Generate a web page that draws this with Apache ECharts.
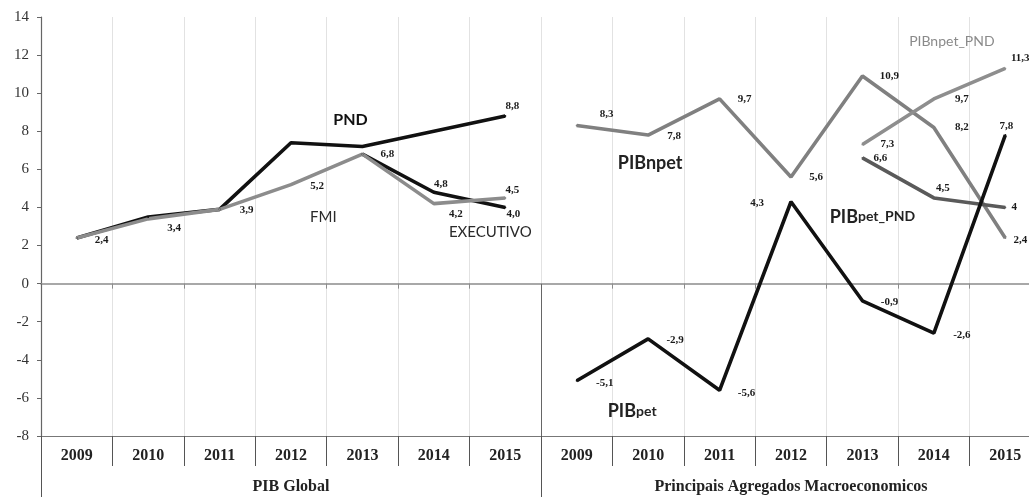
<!DOCTYPE html>
<html>
<head>
<meta charset="utf-8">
<script src="https://cdn.jsdelivr.net/npm/echarts@6/dist/echarts.min.js"></script>
<style>
html,body{margin:0;padding:0;background:#fff;overflow:hidden;width:1029px;height:497px;}
#chart{width:1041px;height:497px;}
</style>
</head>
<body>
<div id="chart"></div>
<script>
// ---- data ----
const years = ['2009', '2010', '2011', '2012', '2013', '2014', '2015'];
const groups = ['PIB Global', 'Principais Agregados Macroeconomicos'];
const yMin = -8, yMax = 14, yStep = 2;

// PIB Global
const pnd = [2.4, 3.5, 3.9, 7.4, 7.2, 8.0, 8.8];
const executivo = [null, null, null, null, 6.8, 4.8, 4.0];
const fmi = [2.4, 3.4, 3.9, 5.2, 6.8, 4.2, 4.5];

// Principais Agregados Macroeconomicos
const pibNpet = [8.3, 7.8, 9.7, 5.6, 10.9, 8.2, 2.4];
const pibNpetPnd = [null, null, null, null, 7.3, 9.7, 11.3];
const pibPetPnd = [null, null, null, null, 6.6, 4.5, 4];
const pibPet = [-5.1, -2.9, -5.6, 4.3, -0.9, -2.6, 7.8];

// ---- label placement (pixel offsets from the point, style only) ----
const pndLbl = [null, null, null, null, null, null, [7, -10]];
const execLbl = [null, null, null, null, null, [7, -8], [8, 7]];
const fmiLbl = [[25, 2], [26, 9], [27, 1], [26, 2], [25, 0], [22, 11], [7, -8]];
const npetLbl = [[30, -11], [26, 1], [25, 0], [25, 0], [27, 0], [28, 0], [15, 2]];
const npetPndLbl = [null, null, null, null, [25, 0], [28, 0], [15, -10]];
const petPndLbl = [null, null, null, null, [18, 0], [9, -10], [9, 0]];
const petLbl = [[28, 2], [27, 1], [27, 3], [-34, 1], [27, 1], [28, 2], [1, -9]];

// ---- series name annotations (category index, value, pixel nudge) ----
const annotations = [
  {text: '{nb|PND}', idx: 4, value: 8.6, dx: -12},
  {text: '{n|FMI}', idx: 4, value: 3.5, dx: -39},
  {text: '{n|EXECUTIVO}', idx: 6, value: 2.7, dx: -15},
  {text: '{big|PIBnpet}', idx: 8, value: 6.3, dx: 2},
  {text: '{g|PIBnpet_PND}', idx: 12, value: 12.7, dx: 18},
  {text: '{big|PIB}{sub|pet_PND}', idx: 11, value: 3.5, dx: 10},
  {text: '{big|PIB}{sub|pet}', idx: 8, value: -6.7, dx: -16}
];

const categories = years.concat(years);
const pad = new Array(years.length).fill(null);

function fmt(v, fixed) {
  return (fixed ? v.toFixed(1) : String(v)).replace('.', ',');
}

function mkSeries(name, values, side, color, lbls, fixed, width) {
  const full = side === 0 ? values.concat(pad) : pad.concat(values);
  const fullLbl = side === 0 ? lbls.concat(pad) : pad.concat(lbls);
  const data = full.map((v, i) => {
    if (v === null) return null;
    const l = fullLbl[i];
    return {
      value: v,
      label: l ? {show: true, offset: l, formatter: () => fmt(v, fixed)} : {show: false}
    };
  });
  return {
    name: name,
    type: 'line',
    data: data,
    connectNulls: false,
    symbol: 'circle',
    symbolSize: 2,
    showSymbol: true,
    itemStyle: {color: color},
    lineStyle: {color: color, width: width || 3.6},
    label: {
      show: true,
      position: 'inside',
      color: '#1a1a1a',
      fontFamily: 'Liberation Serif',
      fontWeight: 'bold',
      fontSize: 11
    },
    emphasis: {disabled: true},
    z: 3
  };
}

const annoSeries = {
  name: 'annotations',
  type: 'line',
  data: categories.map(() => null),
  symbol: 'none',
  silent: true,
  markPoint: {
    symbol: 'rect',
    symbolSize: 1,
    itemStyle: {color: 'rgba(0,0,0,0)'},
    label: {
      show: true,
      position: 'inside',
      rich: {
        nb: {fontFamily: 'Lato', fontWeight: 'bold', fontSize: 16, color: '#111'},
        n: {fontFamily: 'Lato', fontSize: 15, color: '#2a2a2a'},
        big: {fontFamily: 'Lato', fontWeight: 'bold', fontSize: 18, color: '#222'},
        sub: {fontFamily: 'Lato', fontWeight: 'bold', fontSize: 14, color: '#222'},
        g: {fontFamily: 'Lato', fontSize: 14, color: '#8a8a8a'}
      }
    },
    data: annotations.map(a => ({
      coord: [a.idx, a.value],
      label: {formatter: a.text, offset: [a.dx, 0]}
    }))
  }
};

const chart = echarts.init(document.getElementById('chart'), null, {renderer: 'canvas'});
chart.setOption({
  animation: false,
  backgroundColor: '#ffffff',
  grid: {left: 41, right: 0, top: 17, bottom: 61, containLabel: false},
  xAxis: [
    {
      type: 'category', data: categories, boundaryGap: true,
      axisLine: {onZero: true, lineStyle: {color: '#8c8c8c', width: 1.5}},
      axisTick: {show: true, interval: 0, length: 5, lineStyle: {color: '#8c8c8c'}},
      axisLabel: {show: false},
      splitLine: {show: true, interval: 0, lineStyle: {color: '#e2e2e2', width: 1}}
    },
    {
      type: 'category', data: categories, boundaryGap: true, position: 'bottom',
      axisLine: {onZero: false, lineStyle: {color: '#777', width: 1.2}},
      axisTick: {show: true, interval: 0, length: 30, lineStyle: {color: '#555'}},
      axisLabel: {interval: 0, margin: 12, fontFamily: 'Liberation Serif', fontWeight: 'bold', fontSize: 16, color: '#222'},
      splitLine: {show: false}
    },
    {
      type: 'category', data: groups, boundaryGap: true, position: 'bottom',
      axisLine: {show: false, onZero: false},
      axisTick: {show: true, interval: 0, length: 61, lineStyle: {color: '#555'}},
      axisLabel: {interval: 0, margin: 43, fontFamily: 'Liberation Serif', fontWeight: 'bold', fontSize: 16, color: '#222'},
      splitLine: {show: false}
    },
    {
      type: 'category', data: groups, boundaryGap: true, position: 'bottom',
      axisLine: {show: false, onZero: false},
      axisTick: {show: true, inside: true, interval: 0, length: 152, lineStyle: {color: '#666'}},
      axisLabel: {show: false},
      splitLine: {show: false}
    }
  ],
  yAxis: {
    type: 'value', min: yMin, max: yMax, interval: yStep,
    axisLine: {show: true, lineStyle: {color: '#666', width: 1.2}},
    axisTick: {show: true, length: 4, lineStyle: {color: '#666'}},
    axisLabel: {margin: 12, fontFamily: 'Liberation Serif', fontSize: 15, color: '#333'},
    splitLine: {show: false}
  },
  series: [
    mkSeries('PND', pnd, 0, '#111111', pndLbl, true),
    mkSeries('EXECUTIVO', executivo, 0, '#111111', execLbl, true),
    mkSeries('FMI', fmi, 0, '#8c8c8c', fmiLbl, true),
    mkSeries('PIBnpet', pibNpet, 1, '#808080', npetLbl, true),
    mkSeries('PIBnpet_PND', pibNpetPnd, 1, '#8e8e8e', npetPndLbl, true),
    mkSeries('PIBpet_PND', pibPetPnd, 1, '#5a5a5a', petPndLbl, false),
    mkSeries('PIBpet', pibPet, 1, '#111111', petLbl, true),
    annoSeries
  ]
});
</script>
</body>
</html>
